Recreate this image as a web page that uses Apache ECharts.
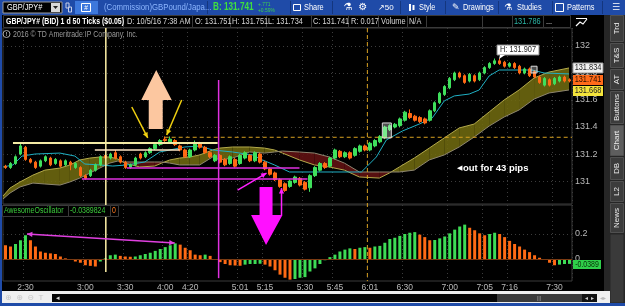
<!DOCTYPE html>
<html>
<head>
<meta charset="utf-8">
<script src="https://cdn.jsdelivr.net/npm/echarts@6.0.0/dist/echarts.min.js"></script>
<style>
html, body { margin: 0; padding: 0; background: #000; }
#chart { width: 625px; height: 306px; }
</style>
</head>
<body>
<div id="chart"></div>
<script>
var FONT = "'Liberation Sans', 'DejaVu Sans', sans-serif";

// 50 tick bars: [open, close, low, high]
var candles = [
  [131.11,131.10,131.09,131.12],[131.10,131.13,131.09,131.14],[131.13,131.18,131.12,131.19],[131.20,131.26,131.19,131.28],
  [131.25,131.16,131.15,131.26],[131.16,131.14,131.13,131.17],[131.14,131.10,131.09,131.15],[131.11,131.15,131.10,131.16],
  [131.15,131.18,131.14,131.19],[131.17,131.12,131.11,131.18],[131.13,131.16,131.12,131.17],[131.15,131.11,131.10,131.16],
  [131.12,131.15,131.11,131.16],[131.14,131.12,131.08,131.15],[131.10,131.13,131.09,131.14],[131.10,131.04,131.03,131.11],
  [131.04,131.02,131.01,131.05],[131.04,131.08,131.03,131.09],[131.08,131.12,131.07,131.13],[131.12,131.18,131.11,131.19],
  [131.19,131.17,131.16,131.20],[131.17,131.20,131.16,131.21],[131.21,131.17,131.16,131.23],[131.18,131.14,131.13,131.19],
  [131.14,131.10,131.09,131.15],[131.10,131.12,131.09,131.13],[131.12,131.17,131.11,131.18],[131.20,131.17,131.16,131.21],
  [131.18,131.21,131.17,131.22],[131.21,131.24,131.20,131.25],[131.24,131.27,131.23,131.28],[131.27,131.30,131.26,131.31],
  [131.31,131.30,131.29,131.33],[131.29,131.31,131.28,131.33],[131.30,131.27,131.26,131.31],[131.26,131.23,131.22,131.27],
  [131.23,131.18,131.17,131.24],[131.18,131.23,131.17,131.24],[131.23,131.28,131.22,131.30],[131.28,131.25,131.24,131.29],
  [131.25,131.21,131.20,131.26],[131.21,131.18,131.17,131.22],[131.15,131.19,131.14,131.20],[131.19,131.14,131.13,131.20],
  [131.16,131.12,131.11,131.17],[131.13,131.18,131.12,131.19],[131.16,131.11,131.10,131.17],[131.13,131.19,131.12,131.20],
  [131.17,131.21,131.16,131.22],[131.19,131.15,131.14,131.20],[131.15,131.21,131.14,131.22],[131.20,131.14,131.13,131.21],
  [131.14,131.09,131.08,131.15],[131.09,131.05,131.04,131.10],[131.06,131.01,131.00,131.07],[131.01,130.96,130.95,131.02],
  [130.98,130.93,130.92,130.99],[130.96,131.00,130.95,131.01],[130.99,131.03,130.98,131.04],[131.02,130.97,130.96,131.03],
  [130.99,130.94,130.93,131.00],[130.95,131.04,130.92,131.05],[131.04,131.10,131.03,131.11],[131.08,131.13,131.07,131.14],
  [131.13,131.10,131.09,131.14],[131.11,131.17,131.10,131.18],[131.17,131.23,131.16,131.24],[131.22,131.18,131.17,131.23],
  [131.18,131.21,131.17,131.22],[131.21,131.17,131.16,131.22],[131.19,131.24,131.18,131.25],[131.22,131.26,131.21,131.27],
  [131.26,131.23,131.22,131.27],[131.23,131.28,131.22,131.29],[131.26,131.30,131.25,131.31],[131.29,131.33,131.28,131.34],
  [131.32,131.40,131.31,131.41],[131.38,131.41,131.37,131.42],[131.40,131.42,131.39,131.43],[131.41,131.46,131.40,131.47],
  [131.45,131.51,131.44,131.52],[131.50,131.47,131.46,131.53],[131.48,131.45,131.44,131.49],[131.47,131.44,131.43,131.48],
  [131.46,131.43,131.42,131.47],[131.45,131.52,131.44,131.53],[131.52,131.58,131.51,131.59],[131.58,131.65,131.57,131.66],
  [131.64,131.70,131.63,131.71],[131.69,131.76,131.68,131.77],[131.75,131.80,131.74,131.81],[131.80,131.77,131.76,131.81],
  [131.78,131.73,131.72,131.79],[131.74,131.79,131.73,131.80],[131.78,131.74,131.73,131.79],[131.75,131.80,131.74,131.81],
  [131.80,131.84,131.79,131.85],[131.84,131.87,131.83,131.88],[131.87,131.89,131.86,131.907],[131.89,131.87,131.86,131.907],
  [131.88,131.85,131.84,131.89],[131.85,131.87,131.84,131.88],[131.87,131.84,131.83,131.88],[131.85,131.80,131.79,131.86],
  [131.80,131.83,131.79,131.84],[131.83,131.78,131.77,131.84],[131.81,131.77,131.76,131.82],[131.77,131.73,131.72,131.78],
  [131.71,131.76,131.70,131.77],[131.75,131.71,131.70,131.76],[131.72,131.76,131.71,131.77],[131.74,131.77,131.73,131.78],
  [131.77,131.74,131.73,131.78],[131.75,131.741,131.73,131.76]
];

var aoValues = [
  0.11,0.10,0.12,0.15,0.19,0.15,0.10,0.06,0.05,0.045,
  0.04,0.02,0.005,-0.005,-0.02,-0.03,-0.05,-0.055,-0.06,-0.02,
  0.005,0.03,0.035,0.025,0.02,0.018,0.02,0.03,0.04,0.05,
  0.065,0.08,0.095,0.11,0.125,0.115,0.09,0.07,0.035,0.03,
  0.035,0.025,0.0,-0.025,-0.04,-0.05,-0.052,-0.054,-0.045,-0.04,
  -0.04,-0.038,-0.045,-0.06,-0.09,-0.125,-0.15,-0.165,-0.16,-0.15,
  -0.145,-0.1,-0.075,-0.04,-0.01,0.015,0.035,0.06,0.075,0.085,
  0.08,0.09,0.095,0.09,0.1,0.105,0.13,0.16,0.17,0.185,
  0.2,0.21,0.215,0.195,0.175,0.15,0.152,0.165,0.18,0.205,
  0.235,0.26,0.275,0.25,0.23,0.205,0.19,0.2,0.21,0.2,
  0.175,0.145,0.12,0.1,0.075,0.055,0.03,0.01,-0.005,-0.03,
  -0.05,-0.045,-0.04,-0.039
];

var timeTickIdx  = [4, 16, 24, 32, 37, 47, 52, 60, 66, 73, 80, 89, 96, 101, 110];
var timeTickText = ['2:30','3:00','3:30','4:00','4:20','5:01','5:15','5:30','5:45','6:01','6:30','7:00','7:05','7:16','7:30'];
var priceTicks = [131, 131.2, 131.4, 131.6, 131.8, 132];
var aoTicks = [0, 0.2];

// ichimoku cloud (bar position, span A, span B)
var cloudX = [-0.5,0.9,2.9,5.5,7.9,10.9,12.9,14.9,16.9,18.9,20.9,22.5,23.9,26.9,29.9,31.3,32.9,34.9,36.9,38.9,41.5,42.9,45.5,48.9,51.9,53.9,55.5,58.9,61.9,64.9,67.9,70.9,74.9,76.9,78.9,81.9,84.9,87.9,90.9,93.9,96.9,99.9,102.9,105.9,108.9,112.9];
var spanA = [130.889,130.948,130.993,131.044,131.081,131.096,131.119,131.156,131.17,131.178,131.178,131.163,131.133,131.104,131.111,131.133,131.156,131.17,131.178,131.193,131.23,131.244,131.252,131.252,131.244,131.23,131.207,131.156,131.119,131.104,131.081,131.03,131.022,131.059,131.104,131.17,131.244,131.319,131.393,131.422,131.511,131.6,131.674,131.763,131.807,131.837];
var spanB = [130.867,130.911,130.956,130.985,130.978,130.97,130.993,131.022,131.059,131.096,131.133,131.148,131.141,131.141,131.141,131.141,131.133,131.119,131.119,131.119,131.178,131.156,131.17,131.215,131.207,131.215,131.222,131.215,131.207,131.178,131.133,131.067,131.067,131.067,131.067,131.081,131.156,131.193,131.252,131.326,131.407,131.474,131.526,131.607,131.652,131.674];

// cyan base line [bar position, price]
var baseLine = [[-0.5,131.104],[1.5,131.119],[3.3,131.185],[5.9,131.2],[10.9,131.207],[13.9,131.185],[15.9,131.126],[18.9,131.119],[21.5,131.111],[24.3,131.119],[27.9,131.141],[30.9,131.215],[35.9,131.252],[38.9,131.259],[41.5,131.23],[45.5,131.215],[49.5,131.193],[51.5,131.156],[53.9,131.119],[56.9,131.067],[62.9,131.067],[71.3,131.067],[72.5,131.111],[74.3,131.178],[76.3,131.304],[79.5,131.37],[82.9,131.422],[85.5,131.467],[87.9,131.593],[89.9,131.63],[92.9,131.644],[94.9,131.674],[96.9,131.778],[98.9,131.822],[105.5,131.822],[107.9,131.8],[112.9,131.793]];

// hand drawn annotations, in [bar position, price]
var yellowVLine  = [[20.1,132.133],[20.1,130.326]];
var magentaVLine = [[42.7,131.748],[42.7,130.281]];
var sessionLine  = [[72.5,132.133],[72.5,130.259]];
var dashedLevel  = [[31.9,131.324],[113.5,131.324]];
var yellowLevel  = [[1.5,131.281],[42.5,131.281]];
var lightLevel   = [[17.9,131.23],[34.9,131.23]];
var magentaLevelA = [[24.3,131.096],[58.9,131.096]];
var magentaLevelB = [[15.3,131.015],[60.5,131.015]];
var yellowArrows  = [[25.3,131.548,28.5,131.319],[35.3,131.6,32.3,131.341]];
var magentaArrows = [[46.5,130.933,52.3,131.059],[55.3,130.748,55.3,130.948]];
var upArrowShape   = [[28.7,131.385],[31.5,131.385],[31.5,131.6],[33.3,131.6],[30.2,131.822],[27.2,131.6],[28.7,131.6]];
var downArrowShape = [[50.9,130.956],[53.5,130.956],[53.5,130.748],[55.5,130.748],[52.2,130.526],[49.2,130.748],[50.9,130.748]];
var highlightBoxes = [[75.5,131.43,77.3,131.319],[105.3,131.85,106.5,131.8]];
// arrow in the oscillator pane [bar position, value]
var aoArrow = [[4.3,0.2,33.9,0.128]];

var N = candles.length;
var cats = candles.map(function (c, i) { return String(i); });
var isTick = function (i) { return timeTickIdx.indexOf(i) >= 0; };

var aoData = aoValues.map(function (v, i) {
  var up = i > 0 && v >= aoValues[i - 1];
  return { value: v, itemStyle: { color: up ? '#3ddc55' : '#ff6a14' } };
});

var cloudSegs = [];
for (var k = 0; k < cloudX.length - 1; k++) {
  cloudSegs.push([cloudX[k], spanA[k], spanB[k], cloudX[k + 1], spanA[k + 1], spanB[k + 1]]);
}

function arrowHead(from, to, color) {
  var a = Math.atan2(to[1] - from[1], to[0] - from[0]), s = 6;
  return { type: 'polygon', shape: { points: [to,
    [to[0] - s * Math.cos(a - 0.45), to[1] - s * Math.sin(a - 0.45)],
    [to[0] - s * Math.cos(a + 0.45), to[1] - s * Math.sin(a + 0.45)]] },
    style: { fill: color } };
}
function arrowRender(color, both) {
  return function (params, api) {
    var p1 = api.coord([api.value(0), api.value(1)]);
    var p2 = api.coord([api.value(2), api.value(3)]);
    var kids = [{ type: 'line', shape: { x1: p1[0], y1: p1[1], x2: p2[0], y2: p2[1] }, style: { stroke: color, lineWidth: 1.5 } }];
    kids.push(arrowHead(p1, p2, color));
    if (both) kids.push(arrowHead(p2, p1, color));
    return { type: 'group', children: kids };
  };
}
function lineSeries(data, color, width, type, xi, yi) {
  return { type: 'line', xAxisIndex: xi || 2, yAxisIndex: yi || 0, data: data, clip: false, symbol: 'none',
    silent: true, z: 10, lineStyle: { color: color, width: width, type: type || 'solid' } };
}
function shapeSeries(shapes, color) {
  return { type: 'custom', xAxisIndex: 2, yAxisIndex: 0, clip: false, silent: true, z: 11,
    data: shapes.map(function (s, i) { return [i]; }),
    renderItem: function (params, api) {
      var pts = shapes[api.value(0)].map(function (p) { return api.coord(p); });
      return { type: 'polygon', shape: { points: pts }, style: { fill: color } };
    } };
}

// ---------- static screen chrome ----------
var graphics = [];
function box(x, y, w, h, fill, stroke) {
  graphics.push({ type: 'rect', silent: true, z: 100, shape: { x: x, y: y, width: w, height: h },
    style: { fill: fill || 'none', stroke: stroke || null, lineWidth: 1 } });
}
// platform UI text is condensed; squeeze it horizontally
function label(x, y, text, color, size, opt) {
  opt = opt || {};
  graphics.push({ type: 'text', silent: true, z: 101, x: x, y: y, rotation: opt.rot || 0,
    scaleX: opt.wide || opt.rot ? 1 : 0.82,
    style: { text: text, fill: color, fontSize: size, fontFamily: FONT, fontWeight: opt.bold ? 'bold' : 'normal',
      align: opt.align || 'left', verticalAlign: 'middle' } });
}

// toolbar
box(0, 0, 625, 15, '#1f4ba8');
[207, 290, 332, 400, 445, 498, 552, 602].forEach(function (x) { box(x, 1, 1, 13, '#14367e'); });
box(3, 2, 59, 11, '#000', '#9a9a9a');
label(7, 7.5, 'GBP/JPY#', '#fff', 9);
box(51, 3, 9, 9, '#d8d8d8');
graphics.push({ type: 'polygon', z: 101, silent: true, shape: { points: [[53, 6], [58, 6], [55.5, 9]] }, style: { fill: '#222' } });
box(66, 3, 3, 5, 'none', '#c8d0e8');
box(68.5, 7, 3, 5, 'none', '#c8d0e8');
box(75, 1, 23, 13, '#3d78dc');
box(81.5, 3.5, 9, 8, 'none', '#fff');
label(86, 7.5, '#', '#fff', 8, { align: 'center' });
label(104, 7.5, '(Commission)GBPound/Japa...', '#8cb6ff', 9.5);
label(213, 7.5, 'B: 131.741', '#3fe03f', 10, { bold: true });
label(258, 4.5, '+.771', '#3fd04f', 6);
label(258, 10.5, '+0.59%', '#3fd04f', 6);
box(293.5, 4.5, 7, 6, 'none', '#fff');
label(304, 7.5, 'Share', '#fff', 9);
label(348, 7.5, '\u2697', '#fff', 10, { align: 'center', wide: true });
label(363, 7.5, '\u2699', '#fff', 10, { align: 'center', wide: true });
label(378, 7.5, '\u219750', '#fff', 8, { wide: true });
box(409, 4, 2, 7, '#fff');
box(412.5, 5, 2, 5, '#fff');
label(419, 7.5, 'Style', '#fff', 9);
label(452, 7.5, '\u270e', '#fff', 9, { wide: true });
label(463, 7.5, 'Drawings', '#fff', 9);
label(508, 7.5, '\u2697', '#fff', 9, { align: 'center', wide: true });
label(517, 7.5, 'Studies', '#fff', 9);
box(555.5, 3.5, 8, 8, 'none', '#fff');
label(567, 7.5, 'Patterns', '#fff', 9);
label(616, 7.5, '\u2630', '#fff', 9, { align: 'center', wide: true });

// study header row
box(0, 15, 625, 13, '#000');
var seg = [3, 123, 192, 230, 266, 311, 348, 378, 407, 426, 482, 512, 543, 570];
for (var s = 0; s < seg.length - 1; s++) box(seg[s] + 0.5, 15.5, seg[s + 1] - seg[s], 12, 'none', '#3a3a3a');
label(6, 21.5, 'GBP/JPY# (BID) 1 d 50 Ticks ($0.05)', '#fff', 8.5, { bold: true });
label(127, 21.5, 'D: 10/5/16 7:38 AM', '#d8d8d8', 9);
label(195, 21.5, 'O: 131.751', '#d8d8d8', 9);
label(232, 21.5, 'H: 131.751', '#d8d8d8', 9);
label(268, 21.5, 'L: 131.734', '#d8d8d8', 9);
label(313, 21.5, 'C: 131.741', '#d8d8d8', 9);
label(351, 21.5, 'R: 0.017', '#d8d8d8', 9);
label(381, 21.5, 'Volume', '#d8d8d8', 9);
label(409, 21.5, 'N/A', '#d8d8d8', 9);
label(514, 21.5, '131.786', '#2bb5a5', 9);
label(546, 21.5, '...', '#d8d8d8', 9);
graphics.push({ type: 'polyline', z: 101, silent: true, shape: { points: [[576, 26], [580, 22], [583, 24], [587, 19]] }, style: { stroke: '#fff', lineWidth: 1.2 } });
graphics.push({ type: 'polyline', z: 101, silent: true, shape: { points: [[576, 18.5], [587, 18.5]] }, style: { stroke: '#fff', lineWidth: 1 } });

// copyright
graphics.push({ type: 'circle', z: 101, silent: true, shape: { cx: 6.5, cy: 34, r: 3.5 }, style: { fill: 'none', stroke: '#aaa' } });
label(6.5, 34, '!', '#aaa', 6, { align: 'center', bold: true, wide: true });
label(13, 34.5, '2016 \u00a9 TD Ameritrade IP Company, Inc.', '#9a9a9a', 8.5);

// oscillator header
box(2.5, 205.5, 66, 11, '#000', '#3a3a3a');
box(68.5, 205.5, 42, 11, '#000', '#3a3a3a');
box(110.5, 205.5, 8, 11, '#000', '#3a3a3a');
label(4, 211, 'AwesomeOscillator', '#3ccc3c', 8.5);
label(70, 211, '-0.0389824', '#3ccc3c', 8.5);
label(112, 211, '0', '#ff7a20', 8.5);

// right price tags
box(573, 63, 30, 10, '#f0f0f0', '#999');
label(588, 68, '131.834', '#222', 9, { align: 'center' });
box(573, 75, 30, 10, '#ff6a1a');
label(588, 80, '131.741', '#2a1000', 9, { align: 'center' });
box(573, 86, 30, 10, '#f4e43c');
label(588, 91, '131.668', '#222', 9, { align: 'center' });
box(573, 260, 28, 9, '#2fcf4a');
label(587, 264.5, '-0.0389', '#083008', 8.5, { align: 'center' });

// chart notes
box(497, 45, 42, 10, '#fff', '#888');
graphics.push({ type: 'polygon', z: 101, silent: true, shape: { points: [[500, 55], [505, 55], [499, 59]] }, style: { fill: '#fff' } });
label(518, 50, 'H: 131.907', '#222', 9, { align: 'center' });
label(457, 168, '\u25c0', '#fff', 7, { wide: true });
label(463, 168, 'out for 43 pips', '#fff', 9.5, { bold: true, wide: true });

// right sidebar
box(604, 15, 21, 288, '#262626');
[['Trd', 15, 42], ['T&S', 43, 68], ['AT', 69, 90], ['Buttons', 91, 124], ['Chart', 125, 156],
 ['DB', 157, 180], ['L2', 181, 202], ['News', 203, 233]].forEach(function (t) {
  box(610.5, t[1] + 0.5, 13, t[2] - t[1] - 1, t[0] === 'Chart' ? '#5e5e5e' : '#3c3c3c', '#505050');
  label(617, (t[1] + t[2]) / 2, t[0], '#ececec', 8, { rot: Math.PI / 2, align: 'center' });
});
box(610.5, 234.5, 13, 68, '#3a3a3a');

// bottom scroll bar and frame
box(2, 291, 608, 12, '#efefef');
label(5, 297.5, '\u2295  \u2295  \u2296  T', '#c8c8c8', 8, { wide: true });
box(52, 294, 445, 8, '#050505');
label(56, 298, '\u25c2', '#ddd', 7, { wide: true });
box(497, 294, 85, 8, '#3a3a3a');
label(539, 298, '|||', '#999', 6, { align: 'center', wide: true });
box(582, 294, 15, 8, '#111');
label(585, 298, '\u25c2', '#ccc', 6, { wide: true });
label(591, 298, '\u25b8', '#ccc', 6, { wide: true });
label(603, 298, '\u25c2\u25b8', '#bbb', 6, { align: 'center', wide: true });
box(0, 15, 2, 291, '#1f4ba8');
box(0, 303, 625, 3, '#1f4ba8');

var chart = echarts.init(document.getElementById('chart'));
chart.setOption({
  backgroundColor: '#000',
  animation: false,
  grid: [
    { left: 3, top: 28, width: 569, height: 176, show: true, borderColor: '#3a3a3a', borderWidth: 1, outerBoundsMode: 'none' },
    { left: 3, top: 205, width: 569, height: 76, show: true, borderColor: '#3a3a3a', borderWidth: 1, outerBoundsMode: 'none' }
  ],
  xAxis: [
    { type: 'category', gridIndex: 0, data: cats, boundaryGap: true,
      axisLine: { show: false }, axisTick: { show: false }, axisLabel: { show: false },
      splitLine: { show: true, interval: isTick, lineStyle: { color: '#3c3c3c', type: [1, 3] } } },
    { type: 'category', gridIndex: 1, data: cats, boundaryGap: true,
      axisLine: { show: false }, axisTick: { show: false },
      axisLabel: { interval: isTick, color: '#b8b8b8', fontSize: 8.5, fontFamily: FONT, margin: 2,
        formatter: function (v, i) { return timeTickText[timeTickIdx.indexOf(i)] || ''; } },
      splitLine: { show: true, interval: isTick, lineStyle: { color: '#3c3c3c', type: [1, 3] } } },
    { type: 'value', gridIndex: 0, min: -0.5, max: N - 0.5, show: false },
    { type: 'value', gridIndex: 1, min: -0.5, max: N - 0.5, show: false }
  ],
  yAxis: [
    { type: 'value', gridIndex: 0, position: 'right', min: 130.83, max: 132.133, scale: true,
      axisLine: { show: false }, axisTick: { show: false, customValues: priceTicks },
      axisLabel: { customValues: priceTicks, color: '#b8b8b8', fontSize: 9, fontFamily: FONT, margin: 3 },
      splitLine: { show: true, lineStyle: { color: '#3c3c3c', type: [1, 3] } } },
    { type: 'value', gridIndex: 1, position: 'right', min: -0.176, max: 0.432,
      axisLine: { show: false }, axisTick: { show: false, customValues: aoTicks },
      axisLabel: { customValues: aoTicks, color: '#b8b8b8', fontSize: 9, fontFamily: FONT, margin: 3 },
      splitLine: { show: true, lineStyle: { color: '#3c3c3c', type: [1, 3] } } }
  ],
  graphic: graphics,
  series: [
    { type: 'custom', name: 'cloud', xAxisIndex: 2, yAxisIndex: 0, silent: true, z: 1, data: cloudSegs,
      encode: { x: [0, 3], y: [1, 2, 4, 5] },
      renderItem: function (params, api) {
        var x0 = api.value(0), a0 = api.value(1), b0 = api.value(2);
        var x1 = api.value(3), a1 = api.value(4), b1 = api.value(5);
        var d0 = a0 - b0, d1 = a1 - b1;
        var col = function (d) { return d >= 0 ? 'rgba(112,106,16,0.88)' : 'rgba(96,18,18,0.9)'; };
        var poly = function (pts, c) {
          return { type: 'polygon', shape: { points: pts.map(function (p) { return api.coord(p); }) }, style: { fill: c } };
        };
        if (d0 * d1 < 0) {
          var t = d0 / (d0 - d1), xm = x0 + t * (x1 - x0), ym = a0 + t * (a1 - a0);
          return { type: 'group', children: [
            poly([[x0, a0], [xm, ym], [x0, b0]], col(d0)),
            poly([[xm, ym], [x1, a1], [x1, b1]], col(d1))] };
        }
        return poly([[x0, a0], [x1, a1], [x1, b1], [x0, b0]], col(d0 + d1));
      } },
    { type: 'line', xAxisIndex: 2, yAxisIndex: 0, silent: true, symbol: 'none', z: 2,
      data: cloudX.map(function (x, i) { return [x, spanA[i]]; }), lineStyle: { color: '#b3a94a', width: 1 } },
    { type: 'line', xAxisIndex: 2, yAxisIndex: 0, silent: true, symbol: 'none', z: 2,
      data: cloudX.map(function (x, i) { return [x, spanB[i]]; }), lineStyle: { color: '#8e8670', width: 1 } },
    { type: 'line', xAxisIndex: 2, yAxisIndex: 0, silent: true, symbol: 'none', z: 3,
      data: baseLine, lineStyle: { color: '#1fb0c4', width: 1 } },
    { type: 'candlestick', xAxisIndex: 0, yAxisIndex: 0, data: candles, barWidth: 3, z: 4,
      itemStyle: { color: '#3fe05c', color0: '#ff6a14', borderColor: '#3fe05c', borderColor0: '#ff6a14', borderWidth: 1 } },
    { type: 'bar', xAxisIndex: 1, yAxisIndex: 1, data: aoData, barWidth: 3, z: 4,
      markLine: { silent: true, symbol: 'none', label: { show: false }, data: [{ yAxis: 0 }],
        lineStyle: { color: '#7a3a12', type: 'solid', width: 1 } } },
    lineSeries(yellowVLine, '#fff2a8', 1.5),
    lineSeries(magentaVLine, '#e030e0', 1.5),
    lineSeries(sessionLine, '#d8a020', 1, [4, 3]),
    lineSeries(dashedLevel, '#d8a020', 1, [4, 3]),
    lineSeries(yellowLevel, '#f3eaa4', 2),
    lineSeries(lightLevel, '#ffe6c4', 1.5),
    lineSeries(magentaLevelA, '#e030e0', 1.5),
    lineSeries(magentaLevelB, '#e030e0', 1.5),
    shapeSeries([upArrowShape], '#fcc7a0'),
    shapeSeries([downArrowShape], '#ff10ff'),
    { type: 'custom', xAxisIndex: 2, yAxisIndex: 0, clip: false, silent: true, z: 12, data: highlightBoxes,
      encode: { x: [0, 2], y: [1, 3] },
      renderItem: function (params, api) {
        var p1 = api.coord([api.value(0), api.value(1)]), p2 = api.coord([api.value(2), api.value(3)]);
        return { type: 'rect', shape: { x: p1[0], y: p1[1], width: p2[0] - p1[0], height: p2[1] - p1[1] },
          style: { fill: 'rgba(255,255,255,0.3)', stroke: '#ddd', lineWidth: 1 } };
      } },
    { type: 'custom', xAxisIndex: 2, yAxisIndex: 0, clip: false, silent: true, z: 12, data: yellowArrows,
      encode: { x: [0, 2], y: [1, 3] }, renderItem: arrowRender('#f0d010', false) },
    { type: 'custom', xAxisIndex: 2, yAxisIndex: 0, clip: false, silent: true, z: 12, data: magentaArrows,
      encode: { x: [0, 2], y: [1, 3] }, renderItem: arrowRender('#ff20ff', false) },
    { type: 'custom', xAxisIndex: 3, yAxisIndex: 1, clip: false, silent: true, z: 12, data: aoArrow,
      encode: { x: [0, 2], y: [1, 3] }, renderItem: arrowRender('#e040e0', true) }
  ]
});
</script>
</body>
</html>
